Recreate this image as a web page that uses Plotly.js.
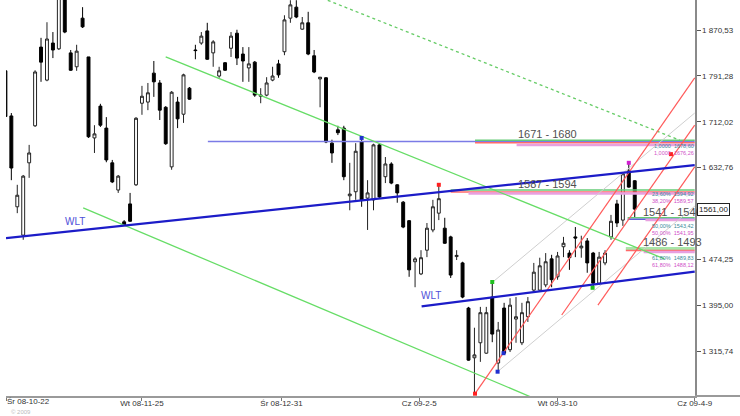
<!DOCTYPE html>
<html><head><meta charset="utf-8">
<script src="https://cdn.plot.ly/plotly-3.0.1.min.js"></script>
<style>html,body{margin:0;padding:0;background:#fff}#chart{width:740px;height:416px}</style>
</head><body><div id="chart"></div>
<script>
// OHLC values (one candle per trading session)
const open  = [1800,1722,1565,1516,1641,1705,1841,1784,1848,1838,1957,1831,1807,1891,1824,1684,1739,1701,1641,1594,
               1539,1570,1603,1744,1746,1796,1779,1737,1634,1746,1725,1770,1836,1848,1869,1831,1791,1814,1839,1865,
               1829,1805,1815,1756,1758,1784,1812,1833,1891,1910,1872,1883,1826,1786,1788,1675,1698,1701,1584,1591,
               1677,1580,1577,1672,1617,1639,1603,1573,1541,1470,1449,1490,1525,1554,1528,1513,1479,1468,1390,1304,
               1330,1312,1409,1295,1390,1318,1371,1330,1375,1421,1421,1430,1475,1444,1496,1485,1513,1494,1506,1485,
               1433,1468,1513,1570,1542,1627,1610];
const high  = [1801,1727,1603,1620,1672,1801,1857,1884,1867,1948,1966,1836,1845,1910,1824,1706,1743,1720,1646,1620,
               1542,1589,1720,1774,1779,1817,1784,1739,1765,1755,1795,1772,1845,1867,1883,1853,1807,1815,1867,1871,
               1841,1841,1817,1770,1789,1807,1819,1896,1922,1922,1893,1902,1836,1789,1789,1681,1705,1705,1641,1675,
               1684,1611,1674,1674,1651,1642,1604,1575,1542,1478,1490,1537,1577,1603,1546,1515,1490,1470,1392,1356,
               1392,1392,1435,1366,1399,1407,1409,1399,1409,1468,1477,1485,1482,1487,1513,1490,1530,1515,1511,1487,
               1487,1490,1551,1577,1625,1641,1611];
const low   = [1720,1611,1554,1508,1615,1703,1781,1782,1822,1836,1865,1800,1800,1874,1684,1658,1703,1642,1606,1589,
               1532,1539,1601,1724,1732,1755,1715,1672,1629,1701,1710,1750,1820,1845,1819,1807,1788,1800,1824,1810,
               1781,1781,1755,1744,1756,1782,1788,1827,1883,1891,1871,1827,1796,1737,1675,1641,1689,1611,1559,1577,
               1565,1525,1559,1580,1606,1604,1572,1528,1444,1426,1447,1478,1521,1542,1501,1442,1473,1407,1299,1242,
               1297,1311,1331,1280,1311,1314,1330,1326,1366,1418,1418,1426,1426,1439,1478,1456,1478,1477,1451,1425,
               1430,1464,1508,1530,1532,1598,1546];
const close = [1721,1632,1585,1618,1658,1798,1815,1855,1836,1940,1867,1801,1834,1876,1686,1691,1706,1646,1608,1618,
               1534,1540,1718,1756,1762,1781,1732,1674,1763,1717,1793,1751,1835,1860,1820,1850,1800,1801,1860,1822,
               1817,1812,1758,1758,1779,1791,1793,1888,1914,1893,1883,1829,1798,1789,1677,1658,1693,1617,1587,1661,
               1577,1589,1672,1582,1639,1606,1589,1530,1456,1475,1477,1528,1565,1579,1502,1447,1481,1409,1300,1309,
               1382,1382,1345,1352,1312,1395,1375,1382,1401,1452,1463,1470,1439,1480,1502,1477,1511,1497,1468,1433,
               1478,1485,1540,1537,1622,1599,1561];
const idx = open.map((_, i) => i);

// axis ticks
const dateTickVals = [23, 46.5, 69.7, 93, 116.1];
const dateTickText = ['Wt 08-11-25', 'Śr 08-12-31', 'Cz 09-2-5', 'Wt 09-3-10', 'Cz 09-4-9'];
const firstDateLabel = 'Śr 08-10-22';
const priceTickVals = [1870.53, 1791.28, 1712.02, 1632.76, 1553.51, 1474.25, 1395.00, 1315.74];
const priceTickText = ['1 870,53', '1 791,28', '1 712,02', '1 632,76', '', '1 474,25', '1 395,00', '1 315,74'];
const lastPrice = 1561.00;

// trend lines (session index, price)
const wltLongX = [0.1, 116.1],  wltLongY = [1511, 1637];
const wltShortX = [70.1, 116.1], wltShortY = [1393, 1453];
const grnUpX = [27.0, 111.0],   grnUpY = [1824, 1475];
const grnLowX = [13.1, 92.5],   grnLowY = [1563, 1219];
const grnDotX = [49.6, 113.6],  grnDotY = [1941, 1680];
const redAX = [79.1, 116.1],    redAY = [1242, 1788];
const redBX = [93.7, 116.1],    redBY = [1378, 1706];
const redCX = [99.8, 116.1],    redCY = [1395, 1634];
const grayAX = [82.1, 116.1],   grayAY = [1435, 1727];
const grayBX = [82.9, 116.1],   grayBY = [1280, 1566];

// support / resistance zones
const zoneLabels = ['1671 - 1680', '1587 - 1594', '1541 - 1546', '1486 - 1493'];
const zoneTop = [1680, 1594, 1546, 1493];
const zoneBottom = [1671, 1587, 1541, 1486];
const zoneStart = [79.1, 75.0, 104.8, 104.5];
const zoneLabelX = [91.3, 91.3, 112.4, 112.4];
const zoneFibA = ['1,0000  1678,60', '23,60%  1594,92', '50,00%  1543,42', '61,80%  1489,83'];
const zoneFibB = ['1,0000  1676,26', '38,20%  1589,57', '50,00%  1541,95', '61,80%  1488,12'];
const lavX = [34.1, 116.1], lavY = [1678, 1678];

// pivot dots
const dotX = [73.0, 60.0, 79.1, 82.0, 82.9, 83.9, 98.9, 105.0, 112.1];
const dotY = [1603, 1684, 1242, 1435, 1280, 1312, 1425, 1641, 1656];
const dotC = ['#ff2020', '#2030d0', '#ff2020', '#20c020', '#2030d0', '#2030d0', '#20c020', '#d020d0', '#ff2020'];

const wltLabelX = [11.7, 71.6], wltLabelY = [1539, 1411];

const FONT = 'Liberation Sans, Arial, sans-serif';
function ln(x, y, color, width, dash) {
  return {type: 'scatter', mode: 'lines', x: x, y: y, hoverinfo: 'skip', showlegend: false,
          line: {color: color, width: width, dash: dash || 'solid'}};
}

const traces = [];
traces.push(ln(lavX, lavY, '#7b7be6', 1.5));
for (let k = 0; k < zoneTop.length; k++) {
  const xs = [zoneStart[k], 116.1];
  traces.push(ln(xs, [zoneTop[k], zoneTop[k]], k === 3 ? '#a8e6a8' : '#66cc77', k === 3 ? 3 : 1.5));
  const mid = (zoneTop[k] + zoneBottom[k]) / 2;
  traces.push(ln(xs, [mid, mid], k === 2 ? '#6060d8' : '#ff6a6a', 1.5));
  traces.push(ln([zoneStart[k] + (k === 0 ? 7 : 3), 116.1], [zoneBottom[k] + 1, zoneBottom[k] + 1], '#e8a0e0', 2.5));
}
traces.push(ln(grayAX, grayAY, '#cfcfcf', 1));
traces.push(ln(grayBX, grayBY, '#cfcfcf', 1));

traces.push({
  type: 'candlestick', x: idx, open: open, high: high, low: low, close: close,
  increasing: {line: {color: '#222222', width: 1}, fillcolor: '#ffffff'},
  decreasing: {line: {color: '#000000', width: 1}, fillcolor: '#000000'},
  whiskerwidth: 0, hoverinfo: 'skip', showlegend: false
});

traces.push(ln(grnUpX, grnUpY, '#66dd66', 1.3));
traces.push(ln(grnLowX, grnLowY, '#66dd66', 1.3));
traces.push(ln(grnDotX, grnDotY, '#66cc66', 1.3, 'dot'));
traces.push(ln(redAX, redAY, '#ff5a5a', 1.2));
traces.push(ln(redBX, redBY, '#ff5a5a', 1.2));
traces.push(ln(redCX, redCY, '#ff5a5a', 1.2));
traces.push(ln(wltLongX, wltLongY, '#1c1cc8', 2.2));
traces.push(ln(wltShortX, wltShortY, '#1c1cc8', 2.2));
traces.push({type: 'scatter', mode: 'markers', x: dotX, y: dotY, hoverinfo: 'skip', showlegend: false,
             marker: {size: 4, color: dotC, symbol: 'square'}});

const fibShift = [3, 4, -1, -1];
const annotations = [];
for (let k = 0; k < zoneLabels.length; k++) {
  annotations.push({x: zoneLabelX[k], y: zoneTop[k], xref: 'x', yref: 'y', text: zoneLabels[k],
    showarrow: false, xanchor: 'center', yanchor: 'bottom', yshift: -1, borderpad: 0,
    font: {family: FONT, size: 11, color: '#505050'}});
  annotations.push({x: 116.1, y: zoneBottom[k], xref: 'x', yref: 'y',
    text: '<span style="color:#3a8a9a">' + zoneFibA[k] + '</span><br><span style="color:#d050c8">' + zoneFibB[k] + '</span>',
    showarrow: false, xanchor: 'right', yanchor: 'top', yshift: fibShift[k], align: 'right', borderpad: 0,
    font: {family: FONT, size: 5.5, color: '#3a8a9a'}});
}
for (let k = 0; k < wltLabelX.length; k++) {
  annotations.push({x: wltLabelX[k], y: wltLabelY[k], xref: 'x', yref: 'y', text: 'WLT', showarrow: false,
    font: {family: FONT, size: 10, color: '#5050d8'}});
}
annotations.push({x: 0.1, y: 0, xref: 'x', yref: 'paper', text: firstDateLabel, showarrow: false,
  xanchor: 'left', yanchor: 'top', yshift: 1, xshift: -1, font: {family: FONT, size: 8, color: '#333'}});
annotations.push({x: 1.003, y: lastPrice, xref: 'paper', yref: 'y', text: '1561,00', showarrow: false,
  xanchor: 'left', yanchor: 'middle', bgcolor: '#ffffff', bordercolor: '#222', borderwidth: 1, borderpad: 1,
  font: {family: FONT, size: 8, color: '#222'}});
annotations.push({x: 0.005, y: -0.028, xref: 'paper', yref: 'paper', text: '© 2009', showarrow: false,
  xanchor: 'left', yanchor: 'top', font: {family: FONT, size: 6, color: '#bbbbbb'}});

const layout = {
  width: 740, height: 416,
  margin: {l: 6, r: 45, t: 0, b: 20, pad: 0},
  paper_bgcolor: '#ffffff', plot_bgcolor: '#ffffff',
  showlegend: false, dragmode: false, hovermode: false,
  xaxis: {type: 'linear', range: [0.1, 116.15], showgrid: false, zeroline: false,
          showline: true, linecolor: '#9a9a9a', linewidth: 2,
          ticks: 'outside', ticklen: 3, tickcolor: '#777', tickwidth: 1,
          ticklabelstandoff: -5,
          tickvals: [0.1].concat(dateTickVals), ticktext: [''].concat(dateTickText),
          tickfont: {family: FONT, size: 8, color: '#333'},
          rangeslider: {visible: false}, fixedrange: true},
  yaxis: {side: 'right', range: [1238, 1922.4], showgrid: false, zeroline: false,
          showline: true, linecolor: '#8a8a8a', linewidth: 1.5,
          ticks: 'outside', ticklen: 4, tickcolor: '#555', tickwidth: 1,
          tickvals: priceTickVals, ticktext: priceTickText,
          tickfont: {family: FONT, size: 8, color: '#333'}, fixedrange: true},
  shapes: [{type: 'line', xref: 'paper', yref: 'paper', x0: 1, x1: 1.07, y0: 0, y1: 0,
            line: {color: '#9a9a9a', width: 2}}],
  annotations: annotations
};

Plotly.newPlot('chart', traces, layout, {displayModeBar: false, staticPlot: true});
</script>
</body></html>
